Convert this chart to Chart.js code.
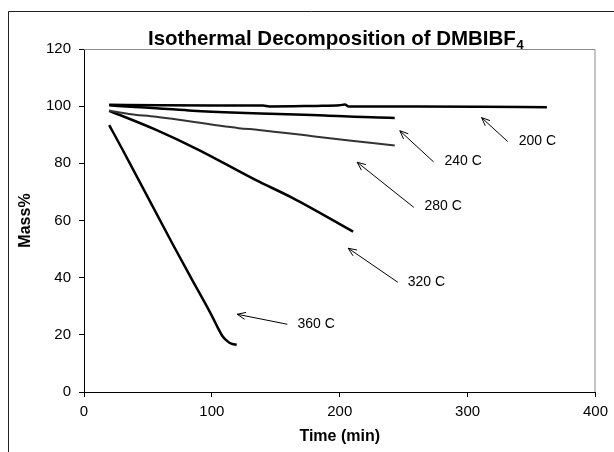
<!DOCTYPE html>
<html>
<head>
<meta charset="utf-8">
<script src="https://cdn.jsdelivr.net/npm/chart.js@4.4.1/dist/chart.umd.min.js"></script>
<style>
html,body{margin:0;padding:0;background:#fff;}
#wrap{width:614px;height:452px;position:relative;}
</style>
</head>
<body>
<div id="wrap"><canvas id="c" width="614" height="452"></canvas></div>
<script>
// ---- data ----
const seriesNames = ['200 C', '240 C', '280 C', '320 C', '360 C'];
const time200 = [19.7, 60, 100, 140, 145, 182, 200, 204, 207, 260, 310, 362];
const mass200 = [100.5, 100.3, 100.2, 100.2, 99.9, 100.1, 100.3, 100.6, 99.9, 99.9, 99.8, 99.6];
const time240 = [19.7, 40, 56.4, 84.9, 121, 152, 188.5, 230, 243];
const mass240 = [100.3, 99.7, 99.3, 98.4, 97.7, 97.3, 96.7, 96.0, 95.9];
const time280 = [19.7, 35, 56.4, 121, 136.7, 182, 227.4, 243];
const mass280 = [98.4, 97.3, 96.3, 92.3, 91.7, 89.3, 87.0, 86.2];
const time320 = [19.7, 56.4, 88.8, 134.1, 162.6, 210.5];
const mass320 = [98.4, 91.7, 84.9, 74.2, 68.0, 56.1];
const time360 = [19.7, 30.5, 42.7, 69.4, 83.6, 100.4, 104.5, 108.2, 111, 113.4, 116, 119.4];
const mass360 = [93.4, 84.5, 74.2, 51.7, 40.0, 26.3, 22.6, 19.6, 18.2, 17.3, 16.8, 16.5];

const xTicks = [0, 100, 200, 300, 400];
const yTicks = [0, 20, 40, 60, 80, 100, 120];

// annotation labels and arrows (data coordinates)
const labelTime = [340, 281.9, 266.2, 253.2, 167];
const labelMass = [87.8, 80.8, 65.1, 38.5, 23.8];
const arrowTailTime = [331.4, 273.4, 257.9, 245.4, 159.0];
const arrowTailMass = [87.6, 80.5, 64.6, 38.4, 23.7];
const arrowHeadTime = [310.9, 247.0, 213.6, 206.6, 119.8];
const arrowHeadMass = [96.0, 91.4, 80.4, 50.3, 27.2];

const chartTitle = 'Isothermal Decomposition of DMBIBF';
const chartTitleSub = '4';
const xTitle = 'Time (min)';
const yTitle = 'Mass%';

const FONT = '"Liberation Sans", Arial, sans-serif';

function zip(t, m) { return t.map((v, i) => ({x: v, y: m[i]})); }
const allTimes = [time200, time240, time280, time320, time360];
const allMass = [mass200, mass240, mass280, mass320, mass360];
const colors = ['#000', '#000', '#333', '#000', '#000'];
const widths = [2.5, 2.5, 2, 2.5, 2.5];

const datasets = seriesNames.map((n, i) => ({
  label: n,
  data: zip(allTimes[i], allMass[i]),
  borderColor: colors[i],
  borderWidth: widths[i],
  pointRadius: 0,
  fill: false,
  cubicInterpolationMode: 'monotone',
  tension: 0.3
}));

const decor = {
  id: 'decor',
  beforeDraw(chart) {
    const ctx = chart.ctx;
    ctx.save();
    ctx.fillStyle = '#fff';
    ctx.fillRect(0, 0, chart.width, chart.height);
    ctx.restore();
  },
  beforeDatasetsDraw(chart) {
    const {ctx, chartArea: a} = chart;
    ctx.save();
    ctx.strokeStyle = '#8a8a8a';
    ctx.lineWidth = 1;
    ctx.beginPath();
    ctx.moveTo(a.left, a.top + 0.5);
    ctx.lineTo(a.right - 0.5, a.top + 0.5);
    ctx.lineTo(a.right - 0.5, a.bottom);
    ctx.stroke();
    ctx.restore();
  },
  afterDraw(chart) {
    const {ctx} = chart;
    const xs = chart.scales.x, ys = chart.scales.y;
    ctx.save();
    // outer frame
    ctx.strokeStyle = '#222';
    ctx.lineWidth = 1;
    ctx.beginPath();
    ctx.moveTo(8.5, chart.height + 5);
    ctx.lineTo(8.5, 11.5);
    ctx.lineTo(chart.width + 5, 11.5);
    ctx.stroke();

    // title with subscript
    ctx.fillStyle = '#000';
    ctx.textBaseline = 'alphabetic';
    ctx.textAlign = 'left';
    ctx.font = 'bold 20.5px ' + FONT;
    const tx = 148, ty = 45;
    ctx.fillText(chartTitle, tx, ty);
    const w = ctx.measureText(chartTitle).width;
    ctx.font = 'bold 13px ' + FONT;
    ctx.fillText(chartTitleSub, tx + w + 0.5, ty + 4);

    // arrows
    ctx.strokeStyle = '#000';
    ctx.lineWidth = 1;
    for (let i = 0; i < seriesNames.length; i++) {
      const x1 = xs.getPixelForValue(arrowTailTime[i]);
      const y1 = ys.getPixelForValue(arrowTailMass[i]);
      const x2 = xs.getPixelForValue(arrowHeadTime[i]);
      const y2 = ys.getPixelForValue(arrowHeadMass[i]);
      ctx.beginPath();
      ctx.moveTo(x1, y1);
      ctx.lineTo(x2, y2);
      const ang = Math.atan2(y2 - y1, x2 - x1);
      const hl = 9, ha = 0.4;
      ctx.moveTo(x2 - hl * Math.cos(ang - ha), y2 - hl * Math.sin(ang - ha));
      ctx.lineTo(x2, y2);
      ctx.lineTo(x2 - hl * Math.cos(ang + ha), y2 - hl * Math.sin(ang + ha));
      ctx.stroke();
    }
    // labels
    ctx.font = '14px ' + FONT;
    ctx.textBaseline = 'middle';
    ctx.textAlign = 'left';
    for (let i = 0; i < seriesNames.length; i++) {
      ctx.fillText(seriesNames[i], xs.getPixelForValue(labelTime[i]), ys.getPixelForValue(labelMass[i]));
    }
    ctx.restore();
  }
};

new Chart(document.getElementById('c'), {
  type: 'line',
  data: {datasets},
  options: {
    responsive: false,
    animation: false,
    devicePixelRatio: 1,
    layout: {padding: {left: 0, top: 49, right: 15, bottom: 0}},
    plugins: {legend: {display: false}, title: {display: false}, tooltip: {enabled: false}},
    scales: {
      x: {
        type: 'linear', min: 0, max: 400,
        afterFit(s) { s.height = 60; },
        afterBuildTicks(s) { s.ticks = xTicks.map(v => ({value: v})); },
        ticks: {color: '#000', font: {family: FONT, size: 15}, padding: 6, maxRotation: 0},
        grid: {drawOnChartArea: false, drawTicks: true, tickLength: 5, color: '#000'},
        border: {color: '#000', width: 1},
        title: {display: true, text: xTitle, color: '#000', font: {family: FONT, size: 16, weight: 'bold'}, padding: {top: 0, bottom: 6}}
      },
      y: {
        type: 'linear', min: 0, max: 120,
        afterFit(s) { s.width = 84; },
        afterBuildTicks(s) { s.ticks = yTicks.map(v => ({value: v})); },
        ticks: {color: '#000', font: {family: FONT, size: 15}, padding: 8},
        grid: {drawOnChartArea: false, drawTicks: true, tickLength: 5, color: '#000'},
        border: {color: '#000', width: 1},
        title: {display: true, text: yTitle, color: '#000', font: {family: FONT, size: 16, weight: 'bold'}, padding: {top: 16, bottom: 0}}
      }
    }
  },
  plugins: [decor]
});
</script>
</body>
</html>
